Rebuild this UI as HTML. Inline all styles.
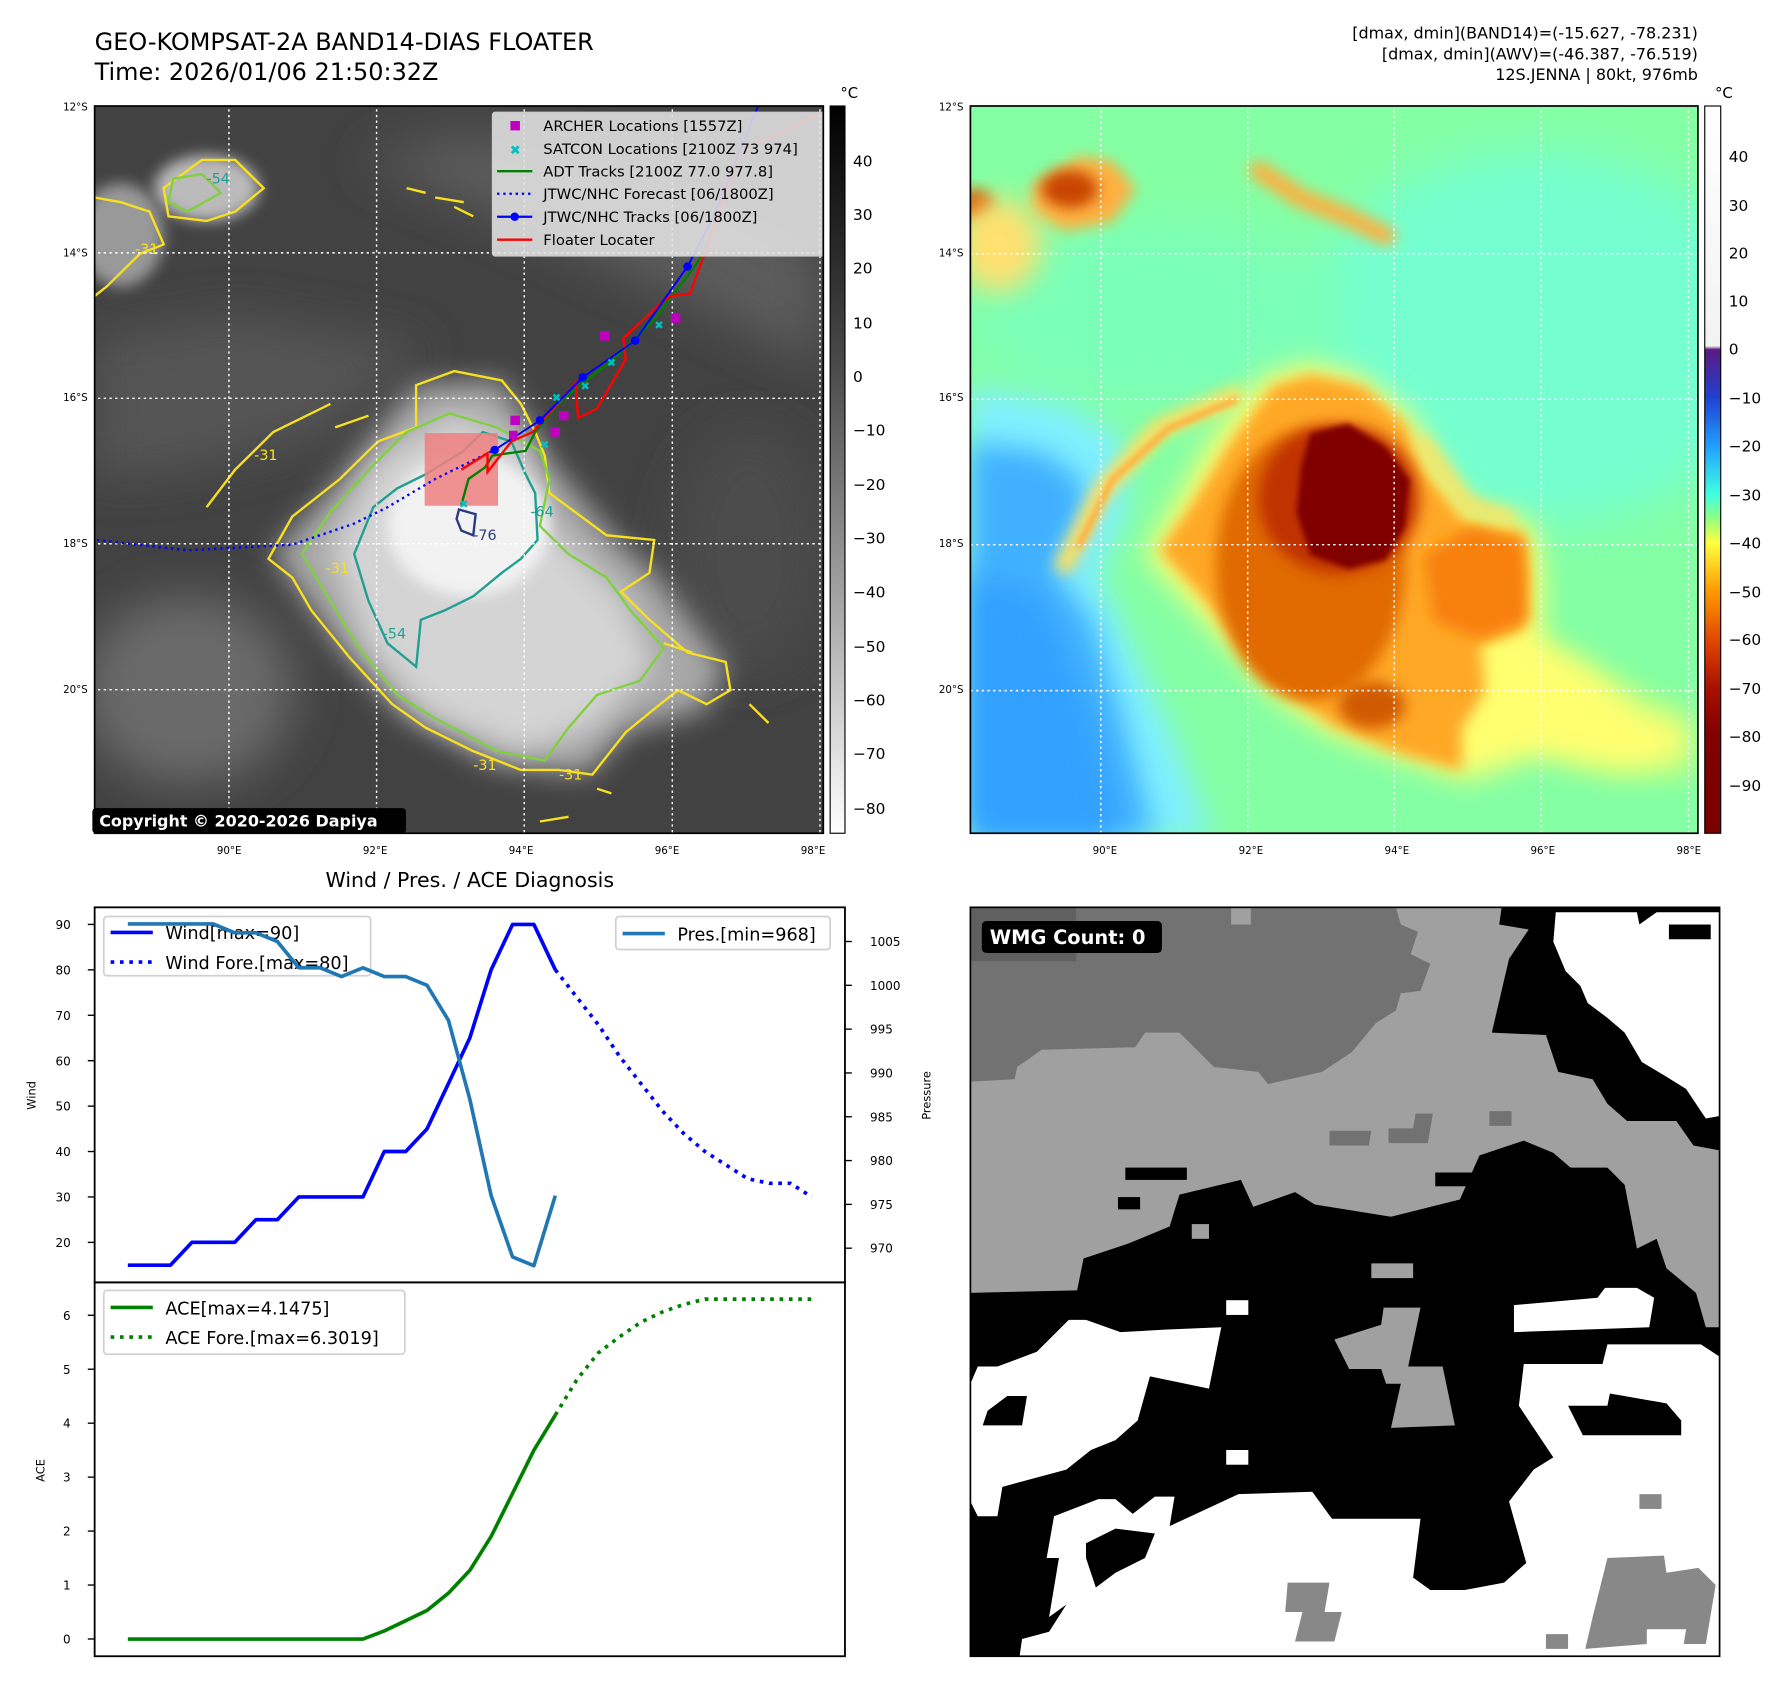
<!DOCTYPE html>
<html><head><meta charset="utf-8">
<style>
html,body{margin:0;padding:0;background:#fff;}
svg{display:block;font-family:"DejaVu Sans","Liberation Sans",sans-serif;}
</style></head>
<body>
<svg id="root" width="1788" height="1695" viewBox="0 0 1568 1487" preserveAspectRatio="none" xmlns="http://www.w3.org/2000/svg">
<defs>
  <filter id="b6" x="-20%" y="-20%" width="140%" height="140%"><feGaussianBlur stdDeviation="6"/></filter>
  <filter id="b15" x="-30%" y="-30%" width="160%" height="160%"><feGaussianBlur stdDeviation="15"/></filter>
  <filter id="b30" x="-40%" y="-40%" width="180%" height="180%"><feGaussianBlur stdDeviation="30"/></filter>
  <filter id="b50" x="-50%" y="-50%" width="200%" height="200%"><feGaussianBlur stdDeviation="50"/></filter>
  <linearGradient id="cbL" x1="0" y1="0" x2="0" y2="1">
    <stop offset="0" stop-color="#000"/><stop offset="0.37" stop-color="#4d4d4d"/><stop offset="1" stop-color="#fff"/>
  </linearGradient>
  <linearGradient id="cbR" x1="0" y1="0" x2="0" y2="1">
    <stop offset="0" stop-color="#ffffff"/><stop offset="0.33" stop-color="#f2f2f2"/>
    <stop offset="0.335" stop-color="#5a1a80"/><stop offset="0.401" stop-color="#2040d0"/>
    <stop offset="0.468" stop-color="#20a0ff"/><stop offset="0.534" stop-color="#40ffe0"/>
    <stop offset="0.567" stop-color="#90ff80"/><stop offset="0.601" stop-color="#ffff40"/>
    <stop offset="0.667" stop-color="#ff9a00"/><stop offset="0.734" stop-color="#e04800"/>
    <stop offset="0.80" stop-color="#a81000"/><stop offset="0.867" stop-color="#800000"/><stop offset="1" stop-color="#7a0000"/>
  </linearGradient>
</defs>

<text x="83" y="44" font-size="21">GEO-KOMPSAT-2A BAND14-DIAS FLOATER</text>
<text x="83" y="70" font-size="21">Time: 2026/01/06 21:50:32Z</text>
<g font-size="14" text-anchor="end">
  <text x="1489" y="34">[dmax, dmin](BAND14)=(-15.627, -78.231)</text>
  <text x="1489" y="52">[dmax, dmin](AWV)=(-46.387, -76.519)</text>
  <text x="1489" y="70">12S.JENNA | 80kt, 976mb</text>
</g>

<!-- LEFT MAP -->
<g>
<svg x="83" y="93" width="639" height="638" viewBox="5 5 1530 1550" preserveAspectRatio="none">
  <rect x="0" y="0" width="1600" height="1600" fill="#424242"/>
  <path d="M560 120 L900 260 L1250 420 L1530 560 L1530 300 L1200 150 L800 60 Z" fill="#5c5c5c" filter="url(#b50)"/>
  <path d="M0 500 L300 450 L700 520 L500 700 L200 780 L0 800 Z" fill="#555" filter="url(#b50)"/>
  <ellipse cx="200" cy="1250" rx="220" ry="200" fill="#6a6a6a" filter="url(#b50)"/>
  <ellipse cx="1380" cy="950" rx="160" ry="260" fill="#4c4c4c" filter="url(#b50)"/>
  <ellipse cx="240" cy="180" rx="110" ry="70" fill="#bbb" filter="url(#b15)"/>
  <ellipse cx="60" cy="280" rx="90" ry="110" fill="#999" filter="url(#b15)"/>
  <path d="M380 960 L520 800 L680 600 L860 590 L960 760 L1100 930 L1180 1000 L1330 1200 L1290 1290 L1120 1340 L1040 1430 L850 1410 L650 1300 L520 1160 Z" fill="#a8a8a8" filter="url(#b30)"/>
  <path d="M500 950 L600 760 L760 660 L900 720 L960 900 L1120 1060 L1180 1200 L1050 1330 L900 1380 L700 1300 L580 1160 Z" fill="#d4d4d4" filter="url(#b30)"/>
  <ellipse cx="790" cy="900" rx="170" ry="150" fill="#f2f2f2" filter="url(#b15)"/>
  <g fill="none" stroke-width="5">
    <path d="M370 970 L420 880 L520 800 L600 720 L680 690 L680 600 L760 570 L860 590 L900 640 L930 700 L950 750 L960 830 L1000 860 L1080 920 L1180 930 L1170 1000 L1110 1040 L1170 1100 L1250 1170 L1330 1190 L1340 1250 L1290 1280 L1230 1250 L1180 1290 L1120 1340 L1050 1430 L980 1420 L900 1420 L800 1380 L700 1330 L630 1280 L540 1180 L460 1080 L420 1010 Z" stroke="#f8e020"/>
    <path d="M240 860 L300 780 L380 700 L480 650 L500 640" stroke="#f8e020"/>
    <path d="M510 690 L580 665" stroke="#f8e020"/>
    <path d="M150 180 L230 120 L300 120 L360 180 L300 230 L240 250 L160 240 Z" stroke="#f8e020"/>
    <path d="M5 200 L60 210 L120 230 L150 300 L100 320 L30 390 L5 410" stroke="#f8e020"/>
    <path d="M660 180 L700 190 M720 200 L780 210 M760 220 L800 240 M1200 1150 L1260 1170 M1380 1280 L1420 1320 M1060 1460 L1090 1470 M940 1530 L1000 1520" stroke="#f8e020"/>
    <path d="M440 960 L500 870 L600 760 L660 700 L750 660 L850 690 L940 740 L960 800 L940 900 L1000 960 L1080 1010 L1130 1080 L1200 1160 L1150 1230 L1060 1260 L1000 1330 L950 1400 L850 1380 L720 1310 L640 1260 L560 1160 L500 1060 Z" stroke="#80d040"/>
    <path d="M170 160 L230 150 L270 190 L200 230 L160 210 Z" stroke="#80d040"/>
    <path d="M590 860 L640 820 L700 790 L780 740 L820 700 L880 720 L910 790 L930 830 L935 930 L900 970 L860 1000 L800 1050 L740 1080 L690 1100 L680 1200 L620 1150 L580 1060 L550 960 Z" stroke="#20a090"/>
    <path d="M770 865 L805 875 L800 920 L775 910 L765 885 Z" stroke="#2a3a80"/>
  </g>
  <g font-size="30" fill="#20a090"><text x="610" y="1140">-54</text><text x="920" y="880">-64</text><text x="800" y="930" fill="#2a3a80">-76</text><text x="240" y="170">-54</text></g>
  <g font-size="30" fill="#f8e020"><text x="340" y="760">-31</text><text x="800" y="1420">-31</text><text x="980" y="1440">-31</text><text x="90" y="320">-31</text><text x="490" y="1000">-31</text></g>
  <g stroke="#fff" stroke-width="3" stroke-dasharray="5,7">
    <line x1="287" y1="0" x2="287" y2="1560"/><line x1="597" y1="0" x2="597" y2="1560"/>
    <line x1="907" y1="0" x2="907" y2="1560"/><line x1="1218" y1="0" x2="1218" y2="1560"/><line x1="1528" y1="0" x2="1528" y2="1560"/>
    <line x1="0" y1="318" x2="1540" y2="318"/><line x1="0" y1="628" x2="1540" y2="628"/>
    <line x1="0" y1="938" x2="1540" y2="938"/><line x1="0" y1="1249" x2="1540" y2="1249"/>
  </g>
  <rect x="698" y="702" width="154" height="155" fill="#f08080" opacity="0.85"/>
  <polyline points="10,930 200,952 420,940 550,895 620,860 720,800 780,770 845,738" fill="none" stroke="#0000ff" stroke-width="5" stroke-dasharray="5,8"/>
  <polyline points="775,855 790,800 825,775 840,750 910,740 930,700 975,645 1000,620 1100,540 1180,460 1270,340 1300,280" fill="none" stroke="#008000" stroke-width="5"/>
  <polyline points="775,780 830,745 830,785 880,720 925,700 1015,595 1020,670 1060,650 1120,545 1115,500 1200,420 1215,410 1255,405 1300,280 1320,220 1360,100 1450,60 1530,20" fill="none" stroke="#ff0000" stroke-width="5"/>
  <polyline points="845,738 940,675 1030,583 1140,505 1250,347 1300,250 1400,0" fill="none" stroke="#0000ff" stroke-width="4"/>
  <g fill="#0000ff"><circle cx="845" cy="738" r="9"/><circle cx="940" cy="675" r="9"/><circle cx="1030" cy="583" r="9"/><circle cx="1140" cy="505" r="9"/><circle cx="1250" cy="347" r="9"/></g>
  <g fill="#00c0c0" font-size="24" font-weight="bold" text-anchor="middle"><text x="780" y="862">✖</text><text x="950" y="735">✖</text><text x="1035" y="610">✖</text><text x="1090" y="560">✖</text><text x="1190" y="480">✖</text><text x="975" y="635">✖</text></g>
  <g fill="#c000c0">
    <rect x="878" y="665" width="20" height="20"/><rect x="980" y="655" width="20" height="20"/><rect x="962" y="690" width="20" height="20"/><rect x="1066" y="485" width="20" height="20"/><rect x="1215" y="447" width="20" height="20"/><rect x="875" y="697" width="18" height="18"/>
  </g>
  <g>
    <rect x="840" y="18" width="697" height="307" rx="6" fill="#e2e2e2" fill-opacity="0.88" stroke="#ccc" stroke-width="2"/>
    <rect x="878" y="37" width="20" height="20" fill="#c000c0"/>
    <text x="888" y="108" font-size="28" fill="#00c0c0" text-anchor="middle" font-weight="bold">✖</text>
    <line x1="850" y1="144" x2="924" y2="144" stroke="#008000" stroke-width="5"/>
    <line x1="850" y1="192" x2="924" y2="192" stroke="#0000ff" stroke-width="5" stroke-dasharray="5,8"/>
    <line x1="850" y1="241" x2="924" y2="241" stroke="#0000ff" stroke-width="5"/><circle cx="887" cy="241" r="9" fill="#0000ff"/>
    <line x1="850" y1="290" x2="924" y2="290" stroke="#ff0000" stroke-width="5"/>
    <g font-size="31" fill="#000">
      <text x="947" y="58">ARCHER Locations [1557Z]</text>
      <text x="947" y="107">SATCON Locations [2100Z 73 974]</text>
      <text x="947" y="155">ADT Tracks [2100Z 77.0 977.8]</text>
      <text x="947" y="203">JTWC/NHC Forecast [06/1800Z]</text>
      <text x="947" y="252">JTWC/NHC Tracks [06/1800Z]</text>
      <text x="947" y="301">Floater Locater</text>
    </g>
  </g>
</svg>
</g>
<rect x="83" y="93" width="639" height="638" fill="none" stroke="#000" stroke-width="1.5"/>
<rect x="81" y="709" width="275" height="22" rx="3" fill="#000"/>
<text x="87" y="725" font-size="14" font-weight="bold" fill="#fff">Copyright © 2020-2026 Dapiya</text>
<g font-size="9" fill="#000">
  <g text-anchor="end"><text x="77" y="97">12°S</text><text x="77" y="225">14°S</text><text x="77" y="352">16°S</text><text x="77" y="480">18°S</text><text x="77" y="608">20°S</text></g>
  <g text-anchor="middle"><text x="201" y="749">90°E</text><text x="329" y="749">92°E</text><text x="457" y="749">94°E</text><text x="585" y="749">96°E</text><text x="713" y="749">98°E</text></g>
</g>
<g>
  <text x="737" y="86" font-size="13">°C</text>
  <rect x="728" y="93" width="13" height="638" fill="url(#cbL)" stroke="#000" stroke-width="1"/>
  <g font-size="13.5"><text x="748" y="146">40</text><text x="748" y="193">30</text><text x="748" y="240">20</text><text x="748" y="288">10</text><text x="748" y="335">0</text><text x="748" y="382">−10</text><text x="748" y="430">−20</text><text x="748" y="477">−30</text><text x="748" y="524">−40</text><text x="748" y="572">−50</text><text x="748" y="619">−60</text><text x="748" y="666">−70</text><text x="748" y="714">−80</text></g>
</g>

<!-- RIGHT MAP -->
<g>
<svg x="851" y="93" width="638" height="638" viewBox="0 3 1540 1550" preserveAspectRatio="none">
  <rect x="0" y="0" width="1600" height="1600" fill="#84ffa4"/>
  <ellipse cx="1200" cy="500" rx="500" ry="400" fill="#74ffd0" filter="url(#b50)"/>
  <ellipse cx="400" cy="450" rx="400" ry="200" fill="#7affb8" filter="url(#b50)"/>
  <path d="M0 600 L200 640 L330 720 L330 870 L270 1000 L340 1150 L430 1350 L510 1560 L0 1560 Z" fill="#80f0ff" filter="url(#b30)"/>
  <path d="M0 720 L150 740 L240 800 L240 880 L180 1000 L260 1100 L320 1300 L390 1560 L0 1560 Z" fill="#40b0ff" filter="url(#b30)"/>
  <path d="M0 1000 L150 1050 L250 1300 L320 1560 L0 1560 Z" fill="#30a0ff" filter="url(#b30)"/>
  <path d="M1150 1120 L1350 1220 L1530 1300 L1530 1440 L1300 1420 L1150 1300 Z" fill="#c8ff78" opacity="0.7" filter="url(#b30)"/>
  <path d="M370 960 L440 840 L520 700 L620 580 L720 550 L830 580 L940 670 L980 760 L1060 870 L1190 890 L1210 1000 L1210 1140 L1300 1190 L1420 1290 L1510 1320 L1520 1390 L1400 1420 L1200 1390 L1050 1440 L900 1390 L760 1340 L640 1260 L550 1160 L460 1060 Z" fill="#ffff70" filter="url(#b30)"/>
  <path d="M400 950 L470 850 L550 720 L640 600 L720 575 L830 600 L920 680 L960 780 L1050 890 L1170 910 L1180 1000 L1170 1120 L1080 1150 L1090 1250 L1040 1330 L1040 1420 L900 1380 L760 1320 L650 1240 L570 1150 L490 1050 Z" fill="#ffa828" filter="url(#b15)"/>
  <path d="M960 960 L1060 900 L1170 930 L1180 1100 L1080 1140 L980 1100 Z" fill="#f88010" filter="url(#b15)"/>
  <ellipse cx="720" cy="980" rx="200" ry="290" fill="#e06a00" filter="url(#b15)"/>
  <ellipse cx="780" cy="840" rx="170" ry="160" fill="#c03000" filter="url(#b15)"/>
  <path d="M720 700 L800 680 L880 730 L930 800 L920 900 L880 970 L800 990 L720 960 L690 870 L700 770 Z" fill="#800000" filter="url(#b6)"/>
  <ellipse cx="850" cy="1280" rx="70" ry="50" fill="#d05a00" filter="url(#b15)"/>
  <g fill="none" stroke-linecap="round">
    <path d="M200 980 L280 820 L400 690 L560 620" stroke="#ffe060" stroke-width="40" filter="url(#b15)"/>
    <path d="M230 940 L300 800 L420 690 L560 630" stroke="#ffb040" stroke-width="14" filter="url(#b6)"/>
    <path d="M610 140 L700 200 L800 240 L880 280" stroke="#ffb040" stroke-width="40" filter="url(#b15)"/>
    <path d="M960 720 L1050 850 L1140 880" stroke="#ffe060" stroke-width="30" filter="url(#b15)"/>
  </g>
  <path d="M130 170 L230 110 L300 120 L350 180 L300 250 L200 270 L130 230 Z" fill="#ffb040" filter="url(#b15)"/>
  <ellipse cx="210" cy="180" rx="60" ry="40" fill="#c84400" filter="url(#b15)"/>
  <ellipse cx="10" cy="215" rx="40" ry="35" fill="#d05000" filter="url(#b15)"/>
  <ellipse cx="60" cy="300" rx="90" ry="100" fill="#ffe070" filter="url(#b30)"/>
  <g stroke="#fff" stroke-width="3" stroke-dasharray="5,7">
    <line x1="276" y1="0" x2="276" y2="1560"/><line x1="587" y1="0" x2="587" y2="1560"/>
    <line x1="897" y1="0" x2="897" y2="1560"/><line x1="1208" y1="0" x2="1208" y2="1560"/><line x1="1520" y1="0" x2="1520" y2="1560"/>
    <line x1="0" y1="318" x2="1540" y2="318"/><line x1="0" y1="628" x2="1540" y2="628"/>
    <line x1="0" y1="938" x2="1540" y2="938"/><line x1="0" y1="1249" x2="1540" y2="1249"/>
  </g>
</svg>
</g>
<rect x="851" y="93" width="638" height="638" fill="none" stroke="#000" stroke-width="1.5"/>
<g font-size="9" fill="#000">
  <g text-anchor="end"><text x="845" y="97">12°S</text><text x="845" y="225">14°S</text><text x="845" y="352">16°S</text><text x="845" y="480">18°S</text><text x="845" y="608">20°S</text></g>
  <g text-anchor="middle"><text x="969" y="749">90°E</text><text x="1097" y="749">92°E</text><text x="1225" y="749">94°E</text><text x="1353" y="749">96°E</text><text x="1481" y="749">98°E</text></g>
</g>
<g>
  <text x="1504" y="86" font-size="13">°C</text>
  <rect x="1495" y="93" width="14" height="638" fill="url(#cbR)" stroke="#000" stroke-width="1"/>
  <g font-size="13.5"><text x="1516" y="142">40</text><text x="1516" y="185">30</text><text x="1516" y="227">20</text><text x="1516" y="269">10</text><text x="1516" y="311">0</text><text x="1516" y="354">−10</text><text x="1516" y="396">−20</text><text x="1516" y="439">−30</text><text x="1516" y="481">−40</text><text x="1516" y="524">−50</text><text x="1516" y="566">−60</text><text x="1516" y="609">−70</text><text x="1516" y="651">−80</text><text x="1516" y="694">−90</text></g>
</g>

<!-- WMG PANEL -->
<g>
<svg x="851" y="796" width="657" height="657" viewBox="5 5 1523 1525" preserveAspectRatio="none">
  <rect x="5" y="5" width="1523" height="1525" fill="#000"/>
  <path d="M5 5 L1085 5 L1080 40 L1140 50 L1100 110 L1065 260 L1175 265 L1200 340 L1270 355 L1300 405 L1340 440 L1440 440 L1475 490 L1528 500 L1528 860 L1500 860 L1480 790 L1420 740 L1400 680 L1360 700 L1335 570 L1300 535 L1225 535 L1190 505 L1130 480 L1040 510 L1000 600 L860 635 L705 610 L665 585 L580 615 L555 560 L430 590 L410 655 L325 690 L235 720 L222 785 L5 790 Z" fill="#a0a0a0"/>
  <path d="M5 5 L870 5 L880 40 L915 55 L900 100 L940 120 L920 175 L880 180 L870 215 L830 240 L780 300 L720 340 L610 365 L590 340 L500 330 L460 290 L430 260 L360 260 L340 290 L150 295 L100 330 L95 355 L5 360 Z" fill="#727272"/>
  <rect x="5" y="5" width="215" height="110" fill="#606060"/>
  <rect x="535" y="5" width="40" height="35" fill="#a0a0a0"/>
  <path d="M1195 15 L1360 15 L1365 40 L1400 15 L1528 15 L1528 430 L1500 435 L1460 375 L1420 350 L1370 320 L1335 260 L1300 230 L1260 200 L1245 165 L1215 135 L1190 75 Z" fill="#fff"/>
  <rect x="1425" y="40" width="85" height="30" fill="#000"/>
  <path d="M5 975 L20 940 L60 940 L140 910 L205 845 L240 845 L310 870 L400 865 L515 860 L490 985 L370 960 L345 1050 L300 1090 L250 1110 L200 1150 L70 1185 L60 1245 L20 1245 L5 1215 Z" fill="#fff"/>
  <path d="M105 1530 L110 1495 L165 1480 L200 1425 L165 1450 L185 1330 L160 1330 L175 1245 L265 1210 L300 1210 L335 1240 L380 1205 L420 1205 L410 1265 L550 1200 L700 1195 L740 1250 L920 1250 L905 1370 L940 1395 L1010 1395 L1090 1380 L1135 1340 L1100 1215 L1150 1150 L1190 1125 L1120 1020 L1130 935 L1290 935 L1300 895 L1490 895 L1528 920 L1528 1530 Z" fill="#fff"/>
  <path d="M1110 815 L1280 800 L1295 780 L1360 780 L1395 800 L1385 860 L1110 870 Z" fill="#fff"/>
  <path d="M1220 1020 L1300 1020 L1305 995 L1420 1015 L1450 1050 L1450 1080 L1250 1080 Z" fill="#000"/>
  <path d="M30 1060 L40 1030 L80 1000 L120 1000 L110 1060 Z" fill="#000"/>
  <path d="M240 1300 L300 1270 L380 1280 L360 1330 L300 1360 L260 1390 L240 1330 Z" fill="#000"/>
  <path d="M745 885 L840 855 L845 820 L920 820 L895 940 L965 940 L990 1060 L860 1065 L880 975 L850 975 L840 945 L775 945 Z" fill="#a0a0a0"/>
  <rect x="820" y="730" width="85" height="30" fill="#a0a0a0"/>
  <path d="M650 1380 L735 1380 L725 1440 L760 1440 L745 1500 L665 1500 L680 1440 L645 1440 Z" fill="#888"/>
  <path d="M1300 1330 L1415 1325 L1420 1360 L1485 1350 L1520 1385 L1500 1505 L1455 1505 L1460 1475 L1380 1475 L1380 1505 L1255 1515 L1270 1450 Z" fill="#888"/>
  <rect x="1365" y="1200" width="45" height="30" fill="#888"/><rect x="1175" y="1485" width="45" height="30" fill="#888"/>
  <path d="M735 460 L820 460 L815 490 L735 490 Z" fill="#727272"/>
  <path d="M855 455 L905 455 L910 425 L945 425 L935 485 L855 485 Z" fill="#727272"/>
  <rect x="1060" y="420" width="45" height="30" fill="#727272"/>
  <rect x="320" y="535" width="125" height="25" fill="#000"/><rect x="305" y="595" width="45" height="25" fill="#000"/>
  <rect x="950" y="545" width="150" height="28" fill="#000"/>
  <rect x="525" y="805" width="45" height="30" fill="#fff"/><rect x="525" y="1110" width="45" height="30" fill="#fff"/>
  <rect x="455" y="650" width="35" height="30" fill="#a0a0a0"/>
</svg>
<rect x="851" y="796" width="657" height="657" fill="none" stroke="#000" stroke-width="1.5"/>
<rect x="861" y="808" width="158" height="28" rx="4" fill="#000"/>
<text x="868" y="828" font-size="17" font-weight="bold" fill="#fff">WMG Count: 0</text>
</g>

<text x="412" y="778" font-size="18" text-anchor="middle">Wind / Pres. / ACE Diagnosis</text>
<g id="chart"></g>

<script>
const windObs=[15,15,15,20,20,20,25,25,30,30,30,30,40,40,45,55,65,80,90,90,80];
const windFc=[80,74,68,61,55,49,44,40,37,34,33,33,30];
const presObs=[1007,1007,1007,1007,1007,1006,1006,1005,1002,1002,1001,1002,1001,1001,1000,996,987,976,969,968,976];
const aceObs=[0,0,0,0,0,0,0,0,0,0,0,0,0.15,0.34,0.53,0.85,1.27,1.9,2.7,3.5,4.15];
const aceFc=[4.15,4.8,5.3,5.6,5.87,6.06,6.2,6.3,6.3,6.3,6.3,6.3,6.3];
const windTicks=[20,30,40,50,60,70,80,90];
const presTicks=[970,975,980,985,990,995,1000,1005];
const aceTicks=[0,1,2,3,4,5,6];
const fcStart=20;

const NS='http://www.w3.org/2000/svg';
const chart=document.getElementById('chart');
const X0=83,X1=741,WT=796,WB=1125,AT=1125,AB=1453;
const xMin=-1.55,xMax=33.55;
function xs(i){return X0+(i-xMin)/(xMax-xMin)*(X1-X0);}
const wMin=11.2,wMax=93.76;
function yW(v){return WT+(wMax-v)/(wMax-wMin)*(WB-WT);}
const pMin=966.1,pMax=1008.9;
function yP(p){return WT+(pMax-p)/(pMax-pMin)*(WB-WT);}
const aMin=-0.32,aMax=6.61;
function yA(v){return AT+(aMax-v)/(aMax-aMin)*(AB-AT);}
function mk(tag,attrs,parent){const e=document.createElementNS(NS,tag);for(const k in attrs)e.setAttribute(k,attrs[k]);(parent||chart).appendChild(e);return e;}
function pts(arr,off,fy){return arr.map((v,i)=>xs(i+off).toFixed(1)+','+fy(v).toFixed(1)).join(' ');}

let f1=mk('rect',{x:X0,y:WT,width:X1-X0,height:WB-WT,fill:'none',stroke:'#000','stroke-width':1.6});


let f2=mk('rect',{x:X0,y:AT,width:X1-X0,height:AB-AT,fill:'none',stroke:'#000','stroke-width':1.6});



windTicks.forEach(v=>{
  const y=yW(v);
  mk('line',{x1:X0-6,x2:X0,y1:y,y2:y,stroke:'#000','stroke-width':1.2});
  const t=mk('text',{x:X0-21,y:y+4,'font-size':10.5,'text-anchor':'end'});t.textContent=v;
  
  
});
presTicks.forEach(v=>{
  const y=yP(v);
  mk('line',{x1:X1,x2:X1+6,y1:y,y2:y,stroke:'#000','stroke-width':1.2});
  const t=mk('text',{x:X1+22,y:y+4,'font-size':10.5});t.textContent=v;
  
  
});
aceTicks.forEach(v=>{
  const y=yA(v);
  mk('line',{x1:X0-6,x2:X0,y1:y,y2:y,stroke:'#000','stroke-width':1.2});
  const t=mk('text',{x:X0-21,y:y+4,'font-size':10.5,'text-anchor':'end'});t.textContent=v;
  
  
});
let yl=mk('text',{x:0,y:0,'font-size':10,'text-anchor':'middle',transform:'translate(31,961) rotate(-90)'});yl.textContent='Wind';


let pl=mk('text',{x:0,y:0,'font-size':10,'text-anchor':'middle',transform:'translate(816,961) rotate(-90)'});pl.textContent='Pressure';


let al=mk('text',{x:0,y:0,'font-size':10,'text-anchor':'middle',transform:'translate(39,1290) rotate(-90)'});al.textContent='ACE';



let wl=mk('polyline',{points:pts(windObs,0,yW),fill:'none',stroke:'#0000ff','stroke-width':3.2,'stroke-linejoin':'round'});


let wf=mk('polyline',{points:pts(windFc,fcStart,yW),fill:'none',stroke:'#0000ff','stroke-width':3.2,'stroke-dasharray':'3.2,5'});



let lg=mk('g',{});


mk('rect',{x:91,y:804,width:234,height:52,rx:3,fill:'#fff','fill-opacity':0.8,stroke:'#d0d0d0','stroke-width':1.5},lg);
mk('line',{x1:97,x2:134,y1:818,y2:818,stroke:'#0000ff','stroke-width':3.2},lg);
mk('line',{x1:97,x2:134,y1:844,y2:844,stroke:'#0000ff','stroke-width':3.2,'stroke-dasharray':'3.2,5'},lg);
let t1=mk('text',{x:145,y:824,'font-size':15.5},lg);t1.textContent='Wind[max=90]';
let t2=mk('text',{x:145,y:850,'font-size':15.5},lg);t2.textContent='Wind Fore.[max=80]';

let pr=mk('polyline',{points:pts(presObs,0,yP),fill:'none',stroke:'#1f77b4','stroke-width':3.2,'stroke-linejoin':'round'});


let pg=mk('g',{});


mk('rect',{x:540,y:804,width:188,height:29,rx:3,fill:'#fff','fill-opacity':0.8,stroke:'#d0d0d0','stroke-width':1.5},pg);
mk('line',{x1:546,x2:583,y1:819,y2:819,stroke:'#1f77b4','stroke-width':3.2},pg);
let t3=mk('text',{x:594,y:825,'font-size':15.5},pg);t3.textContent='Pres.[min=968]';

let ao=mk('polyline',{points:pts(aceObs,0,yA),fill:'none',stroke:'#008000','stroke-width':3.2,'stroke-linejoin':'round'});


let af=mk('polyline',{points:pts(aceFc,fcStart,yA),fill:'none',stroke:'#008000','stroke-width':3.2,'stroke-dasharray':'3.2,5'});


let ag=mk('g',{});


mk('rect',{x:91,y:1132,width:264,height:56,rx:3,fill:'#fff','fill-opacity':0.8,stroke:'#d0d0d0','stroke-width':1.5},ag);
mk('line',{x1:97,x2:134,y1:1147,y2:1147,stroke:'#008000','stroke-width':3.2},ag);
mk('line',{x1:97,x2:134,y1:1173,y2:1173,stroke:'#008000','stroke-width':3.2,'stroke-dasharray':'3.2,5'},ag);
let t4=mk('text',{x:145,y:1153,'font-size':15.5},ag);t4.textContent='ACE[max=4.1475]';
let t5=mk('text',{x:145,y:1179,'font-size':15.5},ag);t5.textContent='ACE Fore.[max=6.3019]';
</script>
</svg>
</body></html>
